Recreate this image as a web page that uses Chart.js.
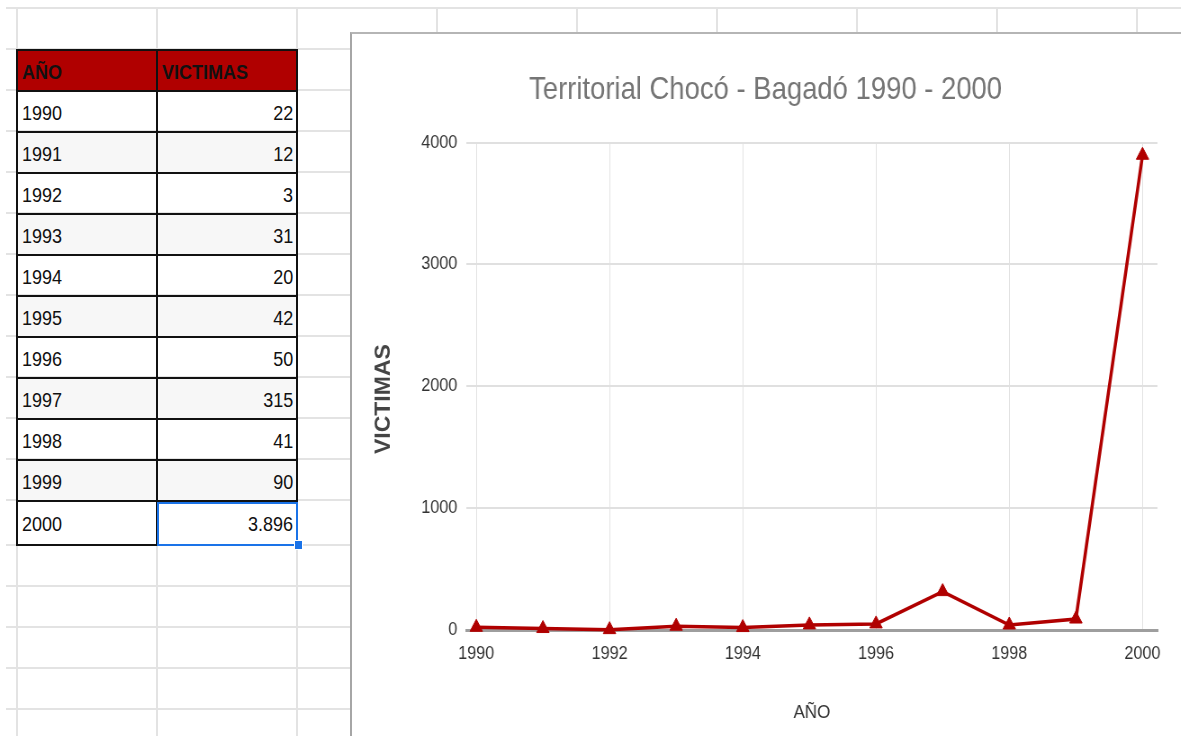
<!DOCTYPE html>
<html>
<head>
<meta charset="utf-8">
<title>Territorial Chocó - Bagadó 1990 - 2000</title>
<script src="https://cdn.jsdelivr.net/npm/chart.js@4/dist/chart.umd.min.js"></script>
<style>
  body { margin: 0; width: 1181px; height: 736px; overflow: hidden; background: #fff;
         font-family: Arial, "Liberation Sans", sans-serif; position: relative; }
  .hl { position: absolute; left: 6px; right: 0; height: 2px; background: #e3e3e3; }
  .vl { position: absolute; top: 8px; bottom: 0; width: 2px; background: #e3e3e3; }
  .celda { position: absolute; box-sizing: border-box; border: 2px solid #111; padding: 3px 3px 0 4px;
           font-size: 20px; color: #111; display: flex; align-items: center; }
  .celda span { display: inline-block; transform: scaleX(0.9); transform-origin: left center; }
  .cab { background: #b00000; font-weight: bold; }
  .par { background: #f7f7f7; }
  .num { justify-content: flex-end; }
  .num span { transform-origin: right center; }
  #sel { position: absolute; left: 157px; top: 502px; width: 137px; height: 40px;
         border: 2px solid #1a73e8; }
  #asa { position: absolute; left: 294px; top: 540px; width: 7px; height: 8px; background: #1a73e8;
         border: 1px solid #fff; }
  #marco { position: absolute; left: 350px; top: 32px; width: 829px; height: 702px; background: #fff;
           border-left: 2px solid #a6a6a6; border-top: 2px solid #b5b5b5; overflow: hidden; }
  /* el lienzo se dibuja mas ancho y se estrecha, como la captura original */
  #lienzo { width: 921px; height: 702px; transform: scaleX(0.9); transform-origin: 0 0; }
</style>
</head>
<body>
<div id="rejilla"></div>
<div id="tabla"></div>
<div id="sel"></div>
<div id="asa"></div>
<div id="marco"><div id="lienzo"><canvas id="grafico" width="921" height="702"></canvas></div></div>

<script>
// datos de la hoja
const anios = [1990, 1991, 1992, 1993, 1994, 1995, 1996, 1997, 1998, 1999, 2000];
const victimas = [22, 12, 3, 31, 20, 42, 50, 315, 41, 90, 3896];
const ticksX = [1990, 1992, 1994, 1996, 1998, 2000];
const ticksY = [0, 1000, 2000, 3000, 4000];

// rejilla de la hoja de calculo
const rejilla = document.getElementById('rejilla');
for (let i = 0; i < 18; i++) {
  const y = i < 13 ? 8 + i * 41 : 545 + (i - 13) * 41;
  const d = document.createElement('div');
  d.className = 'hl';
  d.style.top = (y - 1) + 'px';
  rejilla.appendChild(d);
}
for (let i = 0; i < 9; i++) {
  const d = document.createElement('div');
  d.className = 'vl';
  d.style.left = (16 + i * 140) + 'px';
  rejilla.appendChild(d);
}

// tabla
function miles(v) {
  return String(v).replace(/\B(?=(\d{3})+(?!\d))/g, '.');
}
const tabla = document.getElementById('tabla');
function celda(texto, col, fila, clase) {
  const d = document.createElement('div');
  d.className = 'celda ' + clase;
  const top = 50 + fila * 41;
  const alto = fila === anios.length ? 44 : 41;
  d.style.left = (17 + col * 140 - 1) + 'px';
  d.style.top = (top - 1) + 'px';
  d.style.width = (140 + 2) + 'px';
  d.style.height = (alto + 2) + 'px';
  const s = document.createElement('span');
  s.textContent = texto;
  d.appendChild(s);
  tabla.appendChild(d);
}
celda('AÑO', 0, 0, 'cab');
celda('VICTIMAS', 1, 0, 'cab');
anios.forEach((a, i) => {
  const fondo = i % 2 ? 'par' : '';
  celda(a, 0, i + 1, fondo);
  celda(miles(victimas[i]), 1, i + 1, fondo + ' num');
});

// grafico (unidades del lienzo: x = 0.9 px de pantalla)
const ctx = document.getElementById('grafico').getContext('2d');
const rojo = '#b00000';
const fuente = 'Arial, "Liberation Sans"';
const chart = new Chart(ctx, {
  type: 'line',
  data: {
    datasets: [{
      label: 'VICTIMAS',
      data: anios.map((a, i) => ({ x: a, y: victimas[i] })),
      borderColor: rojo,
      backgroundColor: rojo,
      borderWidth: 3.5,
      pointStyle: 'triangle',
      pointRadius: 8,
      pointBackgroundColor: rojo,
      pointBorderColor: rojo,
      pointBorderWidth: 1,
      tension: 0,
      clip: false
    }]
  },
  options: {
    responsive: false,
    animation: false,
    layout: { padding: { left: 24, right: 26, top: 0, bottom: 0 } },
    plugins: {
      legend: { display: false },
      tooltip: { enabled: false },
      title: {
        display: true,
        text: 'Territorial Chocó - Bagadó 1990 - 2000',
        color: '#757575',
        font: { family: fuente, size: 30.5, weight: 'normal' },
        padding: { top: 38, bottom: 34 }
      }
    },
    scales: {
      x: {
        type: 'linear',
        min: 1989.85,
        max: 2000.225,
        afterBuildTicks: s => { s.ticks = ticksX.map(v => ({ value: v })); },
        afterFit: s => { s.height = 106; },
        ticks: {
          color: '#333',
          font: { family: fuente, size: 18 },
          padding: 13,
          maxRotation: 0,
          callback: v => String(v)
        },
        grid: { color: '#e2e2e2', lineWidth: 1, drawTicks: false },
        border: { display: true, color: '#9e9e9e', width: 3 },
        title: {
          display: true,
          text: 'AÑO',
          color: '#333',
          font: { family: fuente, size: 19 },
          padding: { top: 0, bottom: 12 }
        }
      },
      y: {
        min: 0,
        max: 4000,
        afterBuildTicks: s => { s.ticks = ticksY.map(v => ({ value: v })); },
        afterFit: s => { s.width = 103; },
        ticks: {
          color: '#333',
          font: { family: fuente, size: 18 },
          padding: 10,
          callback: v => String(v)
        },
        grid: { color: '#e0e0e0', lineWidth: 2, drawTicks: false },
        border: { display: false },
        title: {
          display: true,
          text: 'VICTIMAS    ',
          color: '#444',
          font: { family: fuente, size: 23, weight: 'bold', lineHeight: 1 },
          padding: { top: 0, bottom: 0 }
        }
      }
    }
  }
});
</script>
</body>
</html>
